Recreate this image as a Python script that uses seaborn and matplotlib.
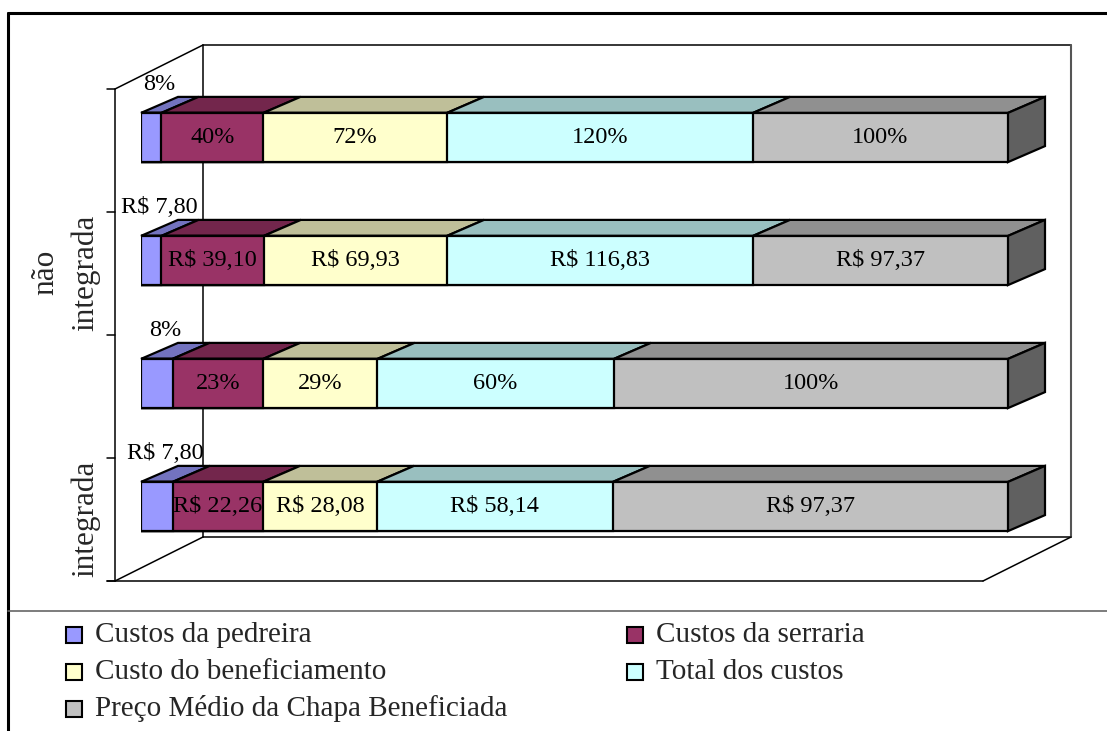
import numpy as np
import pandas as pd
import matplotlib
matplotlib.use("Agg")
import matplotlib.pyplot as plt
from matplotlib.patches import Polygon, Rectangle
import seaborn as sns

# ---- data -------------------------------------------------------------
series = ["Custos da pedreira", "Custos da serraria", "Custo do beneficiamento",
          "Total dos custos", "Preço Médio da Chapa Beneficiada"]

row_keys = ["nao_pct", "nao_rs", "int_pct", "int_rs"]
row_labels = ["", "não\nintegrada", "", "integrada"]

nao_pct = [8, 40, 72, 120, 100]
nao_rs = [7.80, 39.10, 69.93, 116.83, 97.37]
int_pct = [8, 23, 29, 60, 100]
int_rs = [7.80, 22.26, 28.08, 58.14, 97.37]

# ---- style ------------------------------------------------------------
front_colors = ["#9999FF", "#993366", "#FFFFCC", "#CCFFFF", "#C0C0C0"]
top_colors = ["#7373BF", "#73264C", "#BFBF99", "#99BFBF", "#909090"]
side_color = "#606060"

sns.set_theme(style="white")
plt.rcParams["font.family"] = ["Liberation Serif", "DejaVu Serif"]

W, H = 1107, 731
fig = plt.figure(figsize=(W / 100, H / 100), dpi=100)
fig.patch.set_facecolor("white")

# pixel-space canvas for frame, walls and legend
deco = fig.add_axes([0, 0, 1, 1], zorder=0)
deco.set_xlim(0, W)
deco.set_ylim(H, 0)
deco.axis("off")

# plotting plane of the bar fronts (pixel box)
bx0, by0, bx1, by1 = 141, 76, 1008, 568
ax = fig.add_axes([bx0 / W, 1 - by1 / H, (bx1 - bx0) / W, (by1 - by0) / H], zorder=2)
ax.patch.set_alpha(0)

# ---- long table -------------------------------------------------------
rows = {"nao_pct": nao_pct, "nao_rs": nao_rs, "int_pct": int_pct, "int_rs": int_rs}
recs = []
for key, vals in rows.items():
    total = sum(vals)
    run = 0.0
    for s, v in zip(series, vals):
        share = v / total
        if key.endswith("_pct"):
            txt = f"{v}%"
        else:
            txt = "R$ " + f"{v:.2f}".replace(".", ",")
        recs.append(dict(linha=key, serie=s, valor=v, inicio=run, fim=run + share, rotulo=txt))
        run += share
df = pd.DataFrame(recs)

bar_h = 0.4
# front faces: cumulative bars drawn back to front
for s, c in reversed(list(zip(series, front_colors))):
    sub = df[df.serie == s]
    sns.barplot(data=sub, x="fim", y="linha", order=row_keys, orient="h",
                color=c, saturation=1, width=bar_h, errorbar=None,
                edgecolor="black", linewidth=1.6, ax=ax, zorder=3)

ax.set_xlim(0, 1)
ax.set_ylim(len(row_keys) - 0.5, -0.5)
ax.axis("off")

# depth offsets of the 3-D bars, in data units
dx = 37 / (bx1 - bx0)
dy = 16 / ((by1 - by0) / len(row_keys))

for _, r in df.iterrows():
    i = row_keys.index(r.linha)
    j = series.index(r.serie)
    yt = i - bar_h / 2
    yb = i + bar_h / 2
    top = Polygon([(r.inicio, yt), (r.fim, yt), (r.fim + dx, yt - dy), (r.inicio + dx, yt - dy)],
                  closed=True, facecolor=top_colors[j], edgecolor="black",
                  linewidth=1.6, clip_on=False, zorder=2)
    ax.add_patch(top)
    if j == len(series) - 1:
        side = Polygon([(r.fim, yt), (r.fim + dx, yt - dy), (r.fim + dx, yb - dy), (r.fim, yb)],
                       closed=True, facecolor=side_color, edgecolor="black",
                       linewidth=1.6, clip_on=False, zorder=2)
        ax.add_patch(side)

    mid = (r.inicio + r.fim) / 2
    if j == 0:
        ax.annotate(r.rotulo, xy=(mid, yt), xytext=(8 * 0.72, 28 * 0.72),
                    textcoords="offset points", ha="center", va="center",
                    fontsize=17.5, color="black", zorder=6, annotation_clip=False)
    else:
        ax.text(mid, i, r.rotulo, ha="center", va="center", fontsize=17.5,
                color="black", zorder=6)

# ---- walls and floor --------------------------------------------------
lk = dict(color="black", linewidth=1.1, zorder=1)
deco.plot([203, 1071], [45, 45], **lk)
deco.plot([203, 203], [45, 537], **lk)
deco.plot([203, 1071], [537, 537], **lk)
deco.plot([1071, 1071], [45, 537], color="#555555", linewidth=1.5, zorder=1)
deco.plot([115, 203], [89, 45], **lk)
deco.plot([115, 115], [89, 581], **lk)
deco.plot([107, 983], [581, 581], **lk)
deco.plot([115, 203], [581, 537], **lk)
deco.plot([983, 1071], [581, 537], **lk)
for ty in np.linspace(89, 581, len(row_keys) + 1):
    deco.plot([107, 115], [ty, ty], **lk)

# category labels on the front axis
band = (by1 - by0) / len(row_keys)
for i, lab in enumerate(row_labels):
    if lab:
        deco.text(100, by0 + band * (i + 0.5) + 12, lab, rotation=90, ha="right",
                  va="center", multialignment="center", fontsize=22.5, linespacing=1.45)

# ---- outer frame ------------------------------------------------------
deco.plot([8, W], [13, 13], color="black", linewidth=2.2)
deco.plot([8, 8], [13, H], color="black", linewidth=2.2)
deco.plot([8, W], [611, 611], color="#666666", linewidth=1.2)

# ---- legend -----------------------------------------------------------
legend_slots = [(66, 635), (627, 635), (66, 672), (627, 672), (66, 709)]
for (lx, ly), s, c in zip(legend_slots, series, front_colors):
    deco.add_patch(Rectangle((lx, ly - 8), 16, 16, facecolor=c, edgecolor="black", linewidth=1.5))
    deco.text(lx + 29, ly, s, ha="left", va="center", fontsize=21)

fig.savefig("out.png", dpi=100)
